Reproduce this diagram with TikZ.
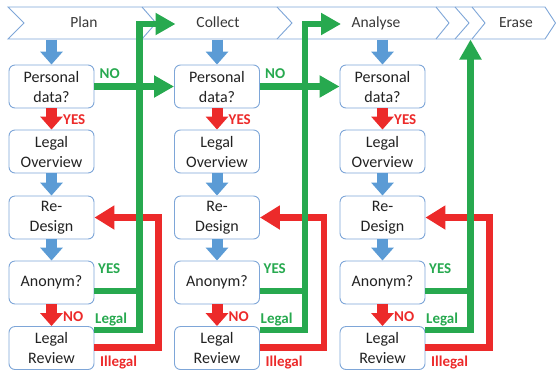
\documentclass[tikz,border=0pt]{standalone}
\usepackage{fontspec}
\setmainfont{Carlito}
\usetikzlibrary{arrows.meta,calc}

\definecolor{bblue}{HTML}{5B9BD5}
\definecolor{bline}{HTML}{7EA6D8}
\definecolor{fgreen}{HTML}{27A94F}
\definecolor{fred}{HTML}{EC2A2A}
\definecolor{txt}{HTML}{222222}

\begin{document}
\begin{tikzpicture}[x=1pt,y=-1pt,
  box/.style={draw=bline, line width=0.9pt, rounded corners=6pt, fill=white,
    minimum width=85pt, minimum height=43pt, align=center, text=txt,
    font=\fontsize{16}{20}\selectfont, inner sep=0pt},
  blk/.style={line width=11pt, -{Triangle[width=22pt,length=13pt]}},
  bluearr/.style={blk, draw=bblue},
  redarr/.style={blk, draw=fred},
  gline/.style={draw=fgreen, line width=6.5pt},
  garr/.style={gline, -{Triangle[width=21pt,length=20pt]}},
  rline/.style={draw=fred, line width=6.5pt},
  rarr/.style={rline, -{Triangle[width=23pt,length=20pt]}},
  lab/.style={font=\fontsize{15}{15}\selectfont\bfseries, inner sep=0pt, anchor=west},
  glab/.style={lab, text=fgreen},
  rlab/.style={lab, text=fred},
  stage/.style={text=txt!90, font=\fontsize{15.5}{15.5}\selectfont, anchor=base, inner sep=0pt},
  banner/.style={draw=bline, line width=0.9pt},
]
\useasboundingbox (0,0) rectangle (556,373);

% process banner with chevron dividers
\draw[banner, fill=white] (8,7) -- (545,7) -- (555.5,23) -- (545,39) -- (8,39) -- (24,23) -- cycle;
\foreach \x/\d in {142/14,277/15,436/13,455/14,472/13}
  \draw[banner] (\x,7) -- (\x+\d,23) -- (\x,39);

\node[stage] (plan) at (84,27.5) {Plan};
\node[stage] (collect) at (218,27.5) {Collect};
\node[stage] (analyse) at (376,27.5) {Analyse};
\node[stage] (erase) at (516,27.5) {Erase};

% decision boxes, one column per stage
\foreach \c/\x in {1/51.5,2/217,3/382.5} {
  \node[box] (p\c) at (\x,86.5)  {Personal\\data?};
  \node[box] (o\c) at (\x,151.5) {Legal\\Overview};
  \node[box] (r\c) at (\x,217.5) {Re-\\Design};
  \node[box] (a\c) at (\x,282.5) {Anonym?};
  \node[box] (l\c) at (\x,348)   {Legal\\Review};
  \coordinate (t\c) at (\x,39.5);
}

% vertical flow inside each column
\foreach \c/\x in {1/51.5,2/217,3/382.5} {
  \draw[bluearr] (t\c) -- (p\c.north);
  \draw[redarr] (p\c.south) -- (o\c.north);
  \draw[bluearr] (o\c.south) -- (r\c.north);
  \draw[bluearr] (r\c.south) -- (a\c.north);
  \draw[redarr] (a\c.south) -- (l\c.north);
  \node[rlab] at (\x+11.5,120) {YES};
  \node[rlab] at (\x+11.5,317) {NO};
  \node[glab] at (\x+46.5,269) {YES};
  \node[glab] at (\x+43.5,319.5) {Legal};
  \node[rlab] at (\x+48.5,362.5) {Illegal};
}
\node[glab] at (99.5,74) {NO};
\node[glab] at (265,74) {NO};

% illegal: back to re-design
\foreach \c/\x in {1/51.5,2/217,3/382.5}
  \draw[rarr] ($(l\c.east)+(0,-0.5)$) -| ($(r\c.east)+(64,0)$) -- (r\c.east);

% not personal: skip to the next column
\draw[garr] (p1.east) -- (p2.west);
\draw[garr] (p2.east) -- (p3.west);

% anonymous or legal: on to the next stage
\coordinate (s1) at (175.5,24);
\coordinate (s2) at (341,24);
\coordinate (s3) at (470.5,39.5);
\foreach \c/\x in {1/51.5,2/217,3/382.5}
  \draw[gline] ($(a\c.east)+(0,8.5)$) -- (\x+88,291);
\draw[garr] ($(l1.east)+(0,-18)$) -| (139.5,24) -- (s1);
\draw[garr] ($(l2.east)+(0,-18)$) -| (305,24) -- (s2);
\draw[garr] ($(l3.east)+(0,-18)$) -| (s3);
\end{tikzpicture}
\end{document}
